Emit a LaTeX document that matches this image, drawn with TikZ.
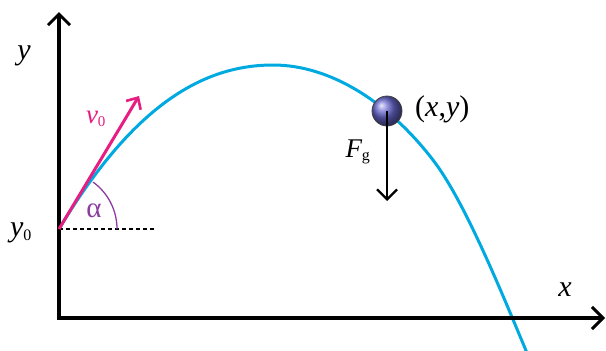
\documentclass[tikz,border=0pt]{standalone}
\usepackage{fontspec}
\setmainfont{Liberation Serif}
\usetikzlibrary{arrows.meta}

\definecolor{trajblue}{RGB}{0,170,225}
\definecolor{velpink}{RGB}{230,30,130}
\definecolor{anglepurple}{RGB}{140,60,160}

\begin{document}
\begin{tikzpicture}[x=1pt,y=-1pt]
% Define styles
\tikzset{axis/.style={line width=3.5pt,-{Straight Barb[length=11pt,width=22pt,line width=3pt]}}}
\tikzset{label/.style={font=\fontsize{30}{32}\selectfont\itshape,inner sep=0pt}}
\tikzset{small/.style={font=\fontsize{27}{29}\selectfont\itshape,inner sep=0pt}}
\tikzset{force/.style={line width=2.5pt,-{Straight Barb[length=10pt,width=20pt,line width=2.3pt]}}}

\useasboundingbox (0,0) rectangle (606,351);

% Draw coordinates
\coordinate (origin) at (59,318);
\coordinate (ytip) at (59,12);
\coordinate (xtip) at (605,318);
\coordinate (start) at (59,229);
\coordinate (top) at (273,65);
\coordinate (fall) at (433,160);
\coordinate (land) at (527,353);
\coordinate (vtip) at (139,96);
\coordinate (dashend) at (154,229);
\coordinate (fgtip) at (387,201);

% Draw trajectory
\draw [trajblue, line width=3pt] (start) .. controls (131,109) and (200,65) .. (top)
  .. controls (330,65) and (388,101.5) .. (fall)
  .. controls (463,199) and (497,281) .. (land);

% Draw axes
\draw [axis] (origin) -- (ytip);
\draw [axis] ([xshift=-1.75pt]origin) -- (xtip);

% Draw initial velocity and angle
\draw [dashed, line width=1.2pt, dash pattern=on 4pt off 3pt] (start) -- (dashend);
\draw [anglepurple, line width=1.3pt] ([xshift=58pt]start) arc[start angle=0, end angle=-54, radius=58];
\draw [velpink, line width=3pt, -{Straight Barb[length=9pt,width=17pt,line width=2.6pt]}] (start) -- (vtip);

% Draw ball and gravity
\node (ball) [circle, minimum size=30pt, inner sep=0pt, ball color=blue!50!gray!80, draw=black!75, line width=0.8pt] at (387,111) {};
\draw [force] (ball.center) -- (fgtip);

% Draw labels
\node (ylab) [label] at (24,56) {y};
\node (xlab) [label] at (565,290) {x};
\node (y0lab) [label] at (21,233) {y\textsubscript{\upshape\fontsize{16}{17}\selectfont 0}};
\node (vlab) [small, velpink] at (96,119) {v\textsubscript{\upshape\fontsize{15}{16}\selectfont 0}};
\node (alab) [small, anglepurple, font=\fontsize{29}{30}\selectfont\upshape] at (94,211) {α};
\node (fglab) [small] at (358,152) {F\textsubscript{\upshape\fontsize{16}{17}\selectfont g}};
\node (xylab) [label, anchor=west] at (415,109) {\upshape(\itshape x\upshape,\itshape y\upshape)};

\end{tikzpicture}
\end{document}
